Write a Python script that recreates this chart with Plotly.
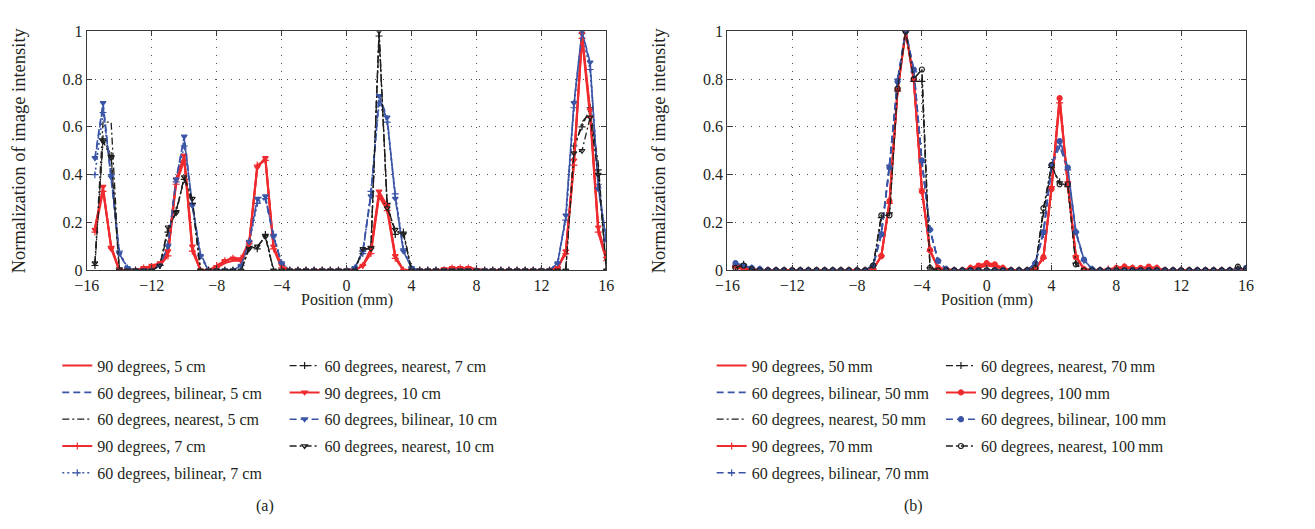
import plotly.graph_objects as go

# ---------------- data ----------------
POSITION_MM = [
    -15.5, -15.0, -14.5, -14.0, -13.5, -13.0, -12.5, -12.0, -11.5, -11.0, -10.5, -10.0, -9.5, -9.0, -8.5, -8.0,
    -7.5, -7.0, -6.5, -6.0, -5.5, -5.0, -4.5, -4.0, -3.5, -3.0, -2.5, -2.0, -1.5, -1.0, -0.5, 0.0,
    0.5, 1.0, 1.5, 2.0, 2.5, 3.0, 3.5, 4.0, 4.5, 5.0, 5.5, 6.0, 6.5, 7.0, 7.5, 8.0,
    8.5, 9.0, 9.5, 10.0, 10.5, 11.0, 11.5, 12.0, 12.5, 13.0, 13.5, 14.0, 14.5, 15.0, 15.5, 16.0,
]

# ----- panel (a) -----
a_90_5cm = [
    .18, .34, .10, 0, 0, 0, 0, .02, .02, .07, .37, .47, .09, 0, 0, .01,
    .03, .04, .04, .11, .43, .47, .10, .01, 0, 0, 0, 0, 0, 0, 0, 0,
    0, .02, .08, .32, .26, .06, 0, 0, 0, 0, 0, 0, .005, .01, .01, .005,
    0, 0, 0, 0, 0, 0, 0, 0, 0, .01, .08, .45, .98, .66, .17, .05,
]
a_60b_5cm = [
    .46, .69, .38, .07, .01, 0, 0, 0, .02, .10, .38, .55, .27, .07, 0, 0,
    0, 0, .02, .12, .29, .30, .14, .03, 0, 0, 0, 0, 0, 0, 0, 0,
    .01, .08, .32, .72, .63, .31, .08, .01, 0, 0, 0, 0, 0, 0, 0, 0,
    0, 0, 0, 0, 0, 0, 0, 0, 0, .03, .22, .69, 1.0, .86, .35, .12,
]
a_60n_5cm = [
    .03, .62, .62, 0, 0, 0, 0, 0, .02, .17, .24, .39, .29, 0, 0, 0,
    0, 0, 0, .09, .10, .14, 0, 0, 0, 0, 0, 0, 0, 0, 0, 0,
    0, .09, .09, 1.0, .27, .16, .16, 0, 0, 0, 0, 0, 0, 0, 0, 0,
    0, 0, 0, 0, 0, 0, 0, 0, 0, 0, 0, .50, .62, .66, .45, 0,
]
a_90_7cm = [
    .16, .33, .10, 0, 0, 0, .01, .01, .02, .06, .36, .46, .08, 0, 0, .02,
    .04, .05, .05, .12, .44, .46, .09, .01, 0, 0, 0, 0, 0, 0, 0, 0,
    0, .02, .07, .31, .25, .05, 0, 0, 0, 0, 0, 0, .01, .01, .01, .005,
    0, 0, 0, 0, 0, 0, 0, 0, 0, .01, .07, .44, .97, .64, .16, .04,
]
a_60b_7cm = [
    .40, .66, .40, .08, .01, 0, 0, 0, .02, .11, .37, .52, .28, .06, 0, 0,
    0, 0, .02, .11, .28, .30, .15, .03, 0, 0, 0, 0, 0, 0, 0, 0,
    .01, .07, .33, .70, .62, .32, .09, .01, 0, 0, 0, 0, 0, 0, 0, 0,
    0, 0, 0, 0, 0, 0, 0, 0, 0, .03, .21, .68, .99, .84, .36, .12,
]
a_60n_7cm = [
    .02, .55, .48, .01, 0, 0, 0, 0, .02, .16, .25, .38, .28, 0, 0, 0,
    0, 0, 0, .10, .09, .15, 0, 0, 0, 0, 0, 0, 0, 0, 0, 0,
    0, .08, .10, .98, .28, .15, .16, 0, 0, 0, 0, 0, 0, 0, 0, 0,
    0, 0, 0, 0, 0, 0, 0, 0, 0, 0, 0, .52, .60, .68, .42, 0,
]
a_90_10cm = [
    .17, .35, .09, 0, 0, 0, .01, .02, .03, .08, .38, .48, .10, 0, 0, .01,
    .04, .05, .04, .11, .43, .47, .10, .02, 0, 0, 0, 0, 0, 0, 0, 0,
    0, .02, .09, .33, .27, .06, 0, 0, 0, 0, 0, .005, .01, .01, .01, 0,
    0, 0, 0, 0, 0, 0, 0, 0, 0, .01, .08, .46, .99, .67, .18, .05,
]
a_60b_10cm = [
    .47, .70, .39, .07, .01, 0, 0, 0, .02, .10, .38, .56, .27, .06, 0, 0,
    0, 0, .02, .12, .30, .31, .14, .03, 0, 0, 0, 0, 0, 0, 0, 0,
    .01, .08, .31, .73, .64, .30, .08, .01, 0, 0, 0, 0, 0, 0, 0, 0,
    0, 0, 0, 0, 0, 0, 0, 0, 0, .03, .23, .70, 1.0, .87, .34, .13,
]
a_60n_10cm = [
    .03, .54, .47, 0, 0, 0, 0, 0, .02, .18, .24, .39, .30, 0, 0, 0,
    0, 0, 0, .09, .10, .14, 0, 0, 0, 0, 0, 0, 0, 0, 0, 0,
    0, .09, .09, 1.0, .26, .17, .15, 0, 0, 0, 0, 0, 0, 0, 0, 0,
    0, 0, 0, 0, 0, 0, 0, 0, 0, 0, 0, .49, .50, .64, .40, 0,
]

# ----- panel (b) -----
b_90_50 = [
    .01, .005, .005, 0, 0, 0, 0, 0, 0, 0, 0, 0, 0, 0, 0, 0,
    0, .005, .06, .285, .75, 1.0, .80, .34, .085, .01, .005, 0, 0, .005, .01, .02,
    .015, .005, 0, 0, 0, .005, .055, .34, .73, .36, .06, .005, 0, 0, 0, .005,
    .01, .005, .005, .01, .005, 0, 0, 0, 0, 0, 0, 0, 0, 0, 0, 0,
]
b_60b_50 = [
    .025, .02, .01, .005, 0, 0, 0, 0, 0, 0, 0, 0, 0, 0, 0, 0,
    0, .02, .15, .44, .79, 1.0, .84, .46, .17, .04, .005, 0, 0, 0, 0, 0,
    0, 0, 0, 0, 0, .03, .16, .44, .55, .43, .165, .045, .005, 0, 0, 0,
    0, 0, 0, 0, 0, 0, 0, 0, 0, 0, 0, 0, 0, 0, 0, .005,
]
b_60n_50 = [
    .02, .02, .005, 0, 0, 0, 0, 0, 0, 0, 0, 0, 0, 0, 0, 0,
    0, .02, .23, .23, .75, 1.0, .80, .84, .01, 0, 0, 0, 0, 0, 0, 0,
    0, 0, 0, 0, 0, .01, .25, .44, .36, .36, .025, 0, 0, 0, 0, 0,
    0, 0, 0, 0, 0, 0, 0, 0, 0, 0, 0, 0, 0, 0, .01, .005,
]
b_90_70 = [
    .01, .01, 0, 0, 0, 0, 0, 0, 0, 0, 0, 0, 0, 0, 0, 0,
    0, .005, .06, .28, .75, 1.0, .79, .34, .08, .01, 0, 0, 0, .01, .015, .025,
    .02, .01, 0, 0, 0, .005, .05, .35, .70, .37, .06, .005, 0, 0, .005, .01,
    .015, .01, .005, .01, .01, 0, 0, 0, 0, 0, 0, 0, 0, 0, 0, 0,
]
b_60b_70 = [
    .02, .015, .01, .005, 0, 0, 0, 0, 0, 0, 0, 0, 0, 0, 0, 0,
    0, .02, .16, .44, .80, 1.0, .83, .45, .17, .04, .005, 0, 0, 0, 0, 0,
    0, 0, 0, 0, 0, .03, .15, .43, .52, .42, .16, .04, .005, 0, 0, 0,
    0, 0, 0, 0, 0, 0, 0, 0, 0, 0, 0, 0, 0, 0, 0, .005,
]
b_60n_70 = [
    .015, .025, .005, 0, 0, 0, 0, 0, 0, 0, 0, 0, 0, 0, 0, 0,
    0, .02, .22, .24, .75, 1.0, .79, .79, .01, 0, 0, 0, 0, 0, 0, 0,
    0, 0, 0, 0, 0, .01, .24, .43, .37, .35, .03, 0, 0, 0, 0, 0,
    0, 0, 0, 0, 0, 0, 0, 0, 0, 0, 0, 0, 0, 0, .01, .005,
]
b_90_100 = [
    .02, .01, .005, 0, 0, 0, 0, 0, 0, 0, 0, 0, 0, 0, 0, 0,
    0, .005, .06, .29, .76, 1.0, .80, .33, .085, .01, .005, 0, 0, .01, .02, .03,
    .025, .01, 0, 0, 0, .005, .055, .34, .72, .36, .055, .005, 0, 0, 0, .01,
    .015, .01, .01, .015, .01, 0, 0, 0, 0, 0, 0, 0, 0, 0, 0, 0,
]
b_60b_100 = [
    .03, .02, .01, .005, 0, 0, 0, 0, 0, 0, 0, 0, 0, 0, 0, 0,
    0, .02, .15, .43, .79, 1.0, .84, .46, .17, .04, .005, 0, 0, 0, 0, 0,
    0, 0, 0, 0, 0, .03, .16, .44, .54, .43, .16, .045, .005, 0, 0, 0,
    0, 0, 0, 0, 0, 0, 0, 0, 0, 0, 0, 0, 0, 0, 0, .01,
]
b_60n_100 = [
    .01, .02, .005, 0, 0, 0, 0, 0, 0, 0, 0, 0, 0, 0, 0, 0,
    0, .02, .23, .23, .76, 1.0, .80, .84, .01, 0, 0, 0, 0, 0, 0, 0,
    0, 0, 0, 0, 0, .01, .26, .44, .36, .36, .025, 0, 0, 0, 0, 0,
    0, 0, 0, 0, 0, 0, 0, 0, 0, 0, 0, 0, 0, 0, .015, .005,
]

X_TICKS = [-16, -12, -8, -4, 0, 4, 8, 12, 16]
Y_TICKS = [0, 0.2, 0.4, 0.6, 0.8, 1]

# ---------------- styling ----------------
W, H = 1315, 529
RED, BLUE, BLACK = "#ee2b2e", "#3b55a6", "#1e1e1e"
TXT = "#231f20"
FONT = "'Liberation Serif', 'Times New Roman', 'DejaVu Serif', serif"
SOLID, DASH, DOT, DASHDOT = "solid", "7px,4px", "2px,3px", "7px,3px,2px,3px"

def px_x(p):
    return p / W

def px_y(p):
    return 1 - p / H

fig = go.Figure()

def add(name, y, color, dash, width, symbol, msize, xa, ya, legend):
    marker = dict(size=msize, color=color, symbol=symbol or "circle",
                  line=dict(color=color, width=1.2))
    fig.add_trace(go.Scatter(
        x=POSITION_MM, y=y, name=name, xaxis=xa, yaxis=ya,
        mode="lines+markers" if symbol else "lines",
        line=dict(color=color, width=width, dash=dash),
        marker=marker, legend=legend, legendgroup=name,
    ))

# panel (a)
add("90 degrees, 5 cm", a_90_5cm, RED, SOLID, 2.0, None, 0, "x", "y", "legend")
add("60 degrees, bilinear, 5 cm", a_60b_5cm, BLUE, DASH, 1.6, None, 0, "x", "y", "legend")
add("60 degrees, nearest, 5 cm", a_60n_5cm, BLACK, DASHDOT, 1.3, None, 0, "x", "y", "legend")
add("90 degrees, 7 cm", a_90_7cm, RED, SOLID, 2.0, "cross-thin", 5, "x", "y", "legend")
add("60 degrees, bilinear, 7 cm", a_60b_7cm, BLUE, DOT, 1.6, "cross-thin", 5, "x", "y", "legend")
add("60 degrees, nearest, 7 cm", a_60n_7cm, BLACK, DASHDOT, 1.3, "cross-thin", 5, "x", "y", "legend2")
add("90 degrees, 10 cm", a_90_10cm, RED, SOLID, 2.0, "triangle-down", 5, "x", "y", "legend2")
add("60 degrees, bilinear, 10 cm", a_60b_10cm, BLUE, DASH, 1.6, "triangle-down", 5, "x", "y", "legend2")
add("60 degrees, nearest, 10 cm", a_60n_10cm, BLACK, DASHDOT, 1.3, "triangle-down-open", 5, "x", "y", "legend2")

# panel (b)
add("90 degrees, 50\u2009mm", b_90_50, RED, SOLID, 2.0, None, 0, "x2", "y2", "legend3")
add("60 degrees, bilinear, 50\u2009mm", b_60b_50, BLUE, DASH, 1.6, None, 0, "x2", "y2", "legend3")
add("60 degrees, nearest, 50\u2009mm", b_60n_50, BLACK, DASHDOT, 1.3, None, 0, "x2", "y2", "legend3")
add("90 degrees, 70\u2009mm", b_90_70, RED, SOLID, 2.0, "cross-thin", 5, "x2", "y2", "legend3")
add("60 degrees, bilinear, 70\u2009mm", b_60b_70, BLUE, DASH, 1.6, "cross-thin", 5, "x2", "y2", "legend3")
add("60 degrees, nearest, 70\u2009mm", b_60n_70, BLACK, DASHDOT, 1.3, "cross-thin", 5, "x2", "y2", "legend4")
add("90 degrees, 100\u2009mm", b_90_100, RED, SOLID, 2.0, "circle", 5, "x2", "y2", "legend4")
add("60 degrees, bilinear, 100\u2009mm", b_60b_100, BLUE, DASH, 1.6, "circle", 5, "x2", "y2", "legend4")
add("60 degrees, nearest, 100\u2009mm", b_60n_100, BLACK, DASHDOT, 1.3, "circle-open", 5, "x2", "y2", "legend4")

axis_common = dict(
    showline=True, linecolor="#3a3a3a", linewidth=1.2, mirror="ticks",
    ticks="inside", ticklen=5, tickcolor="#3a3a3a", tickwidth=1,
    showgrid=True, gridcolor="#4a4a4a", gridwidth=1, griddash="1px,7px",
    zeroline=False, tickfont=dict(family=FONT, size=16, color=TXT),
)
xcommon = dict(axis_common, range=[-16, 16], tickmode="array", tickvals=X_TICKS)
ycommon = dict(axis_common, range=[0, 1], tickmode="array", tickvals=Y_TICKS,
               title=dict(text="Normalization of image intensity",
                          font=dict(family=FONT, size=18.5, color=TXT), standoff=32))

y_dom = [px_y(271), px_y(24)]
fig.update_layout(
    width=W, height=H, margin=dict(l=0, r=0, t=0, b=0),
    paper_bgcolor="white", plot_bgcolor="white",
    font=dict(family=FONT, size=16, color=TXT),
    xaxis=dict(xcommon, domain=[px_x(75), px_x(603)], anchor="y"),
    yaxis=dict(ycommon, domain=y_dom, anchor="x"),
    xaxis2=dict(xcommon, domain=[px_x(726), px_x(1253)], anchor="y2"),
    yaxis2=dict(ycommon, domain=y_dom, anchor="x2"),
)

def legend_at(left_px, top_px):
    return dict(x=px_x(left_px), y=px_y(top_px), xanchor="left", yanchor="top",
                bgcolor="rgba(0,0,0,0)", borderwidth=0, tracegroupgap=3,
                font=dict(family=FONT, size=16, color=TXT), itemwidth=30)

fig.update_layout(
    legend=legend_at(45, 352),
    legend2=legend_at(276, 352),
    legend3=legend_at(710, 352),
    legend4=legend_at(943, 352),
)

# x-axis titles and panel labels
for xc in (339, 989.5):
    fig.add_annotation(text="Position (mm)", x=px_x(xc), y=px_y(302), xref="paper", yref="paper",
                       xanchor="center", yanchor="middle", showarrow=False,
                       font=dict(family=FONT, size=16, color=TXT))
fig.add_annotation(text="(a)", x=px_x(256), y=px_y(515), xref="paper", yref="paper",
                   xanchor="center", yanchor="middle", showarrow=False,
                   font=dict(family=FONT, size=16, color=TXT))
fig.add_annotation(text="(b)", x=px_x(915), y=px_y(515), xref="paper", yref="paper",
                   xanchor="center", yanchor="middle", showarrow=False,
                   font=dict(family=FONT, size=16, color=TXT))

fig.write_html("out.html")
